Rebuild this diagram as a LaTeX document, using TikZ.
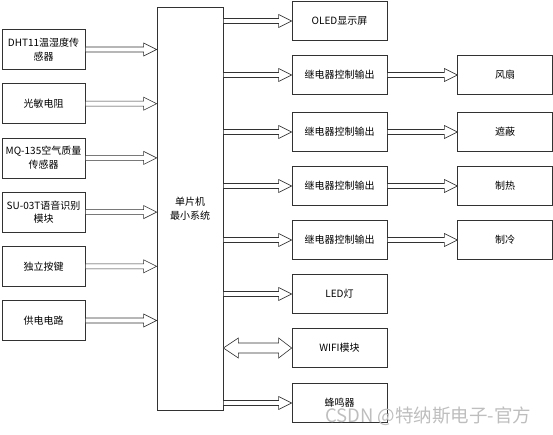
\documentclass[tikz,border=0pt]{standalone}
\usepackage{fontspec}
\setmainfont{Noto Sans CJK SC}
\usetikzlibrary{positioning,calc}
\definecolor{boxline}{RGB}{50,50,50}
\definecolor{wmgray}{RGB}{190,190,190}

% hollow block arrows, height taken from the first point
\newcommand{\harrow}[2]{%
  \draw[harrow] let \p1=#1, \p2=#2 in
    (\x1,\y1+2.5pt) -- (\x2-13pt,\y1+2.5pt) -- (\x2-13pt,\y1+6.5pt) -- (\x2,\y1)
    -- (\x2-13pt,\y1-6.5pt) -- (\x2-13pt,\y1-2.5pt) -- (\x1,\y1-2.5pt) -- cycle;}
\newcommand{\dharrow}[2]{%
  \draw[harrow] let \p1=#1, \p2=#2 in
    (\x1,\y1) -- (\x1+15pt,\y1+10pt) -- (\x1+15pt,\y1+5pt) -- (\x2-13pt,\y1+5pt)
    -- (\x2-13pt,\y1+10pt) -- (\x2,\y1) -- (\x2-13pt,\y1-10pt) -- (\x2-13pt,\y1-5pt)
    -- (\x1+15pt,\y1-5pt) -- (\x1+15pt,\y1-10pt) -- cycle;}

\begin{document}
\begin{tikzpicture}[x=1pt,y=-1pt,node distance=13.5pt and 70pt,
  every node/.style={font=\fontsize{10}{13.5}\selectfont},
  blk/.style={draw=boxline,line width=0.7pt,align=center,inner sep=1pt},
  lbox/.style={blk,minimum width=83pt,minimum height=40pt},
  rbox/.style={blk,minimum width=95pt,minimum height=39pt},
  mcubox/.style={blk,minimum width=66pt,minimum height=403pt},
  harrow/.style={draw=boxline,line width=0.6pt,fill=white},
  watermark/.style={text=wmgray,font=\fontsize{18.5}{20}\selectfont,inner sep=0pt}]
\useasboundingbox (0,0) rectangle (553,435);

% sensors and inputs
\node[lbox] (dht) at (43.5,49.5) {DHT11温湿度传\\感器};
\node[lbox,below=of dht] (ldr) {光敏电阻};
\node[lbox,below=of ldr] (mq) {MQ-135空气质量\\传感器};
\node[lbox,below=of mq] (voice) {SU-03T语音识别\\模块};
\node[lbox,below=of voice] (key) {独立按键};
\node[lbox,below=of key] (pwr) {供电电路};

% controller
\node[mcubox] (mcu) at (190,208.5) {单片机\\最小系统};

% outputs
\node[rbox] (oled) at (339.5,21) {OLED显示屏};
\node[rbox] (rly1) at (339.5,75) {继电器控制输出};
\node[rbox] (rly2) at (339.5,132) {继电器控制输出};
\node[rbox] (rly3) at (339.5,186) {继电器控制输出};
\node[rbox] (rly4) at (339.5,240) {继电器控制输出};
\node[rbox] (led) at (339.5,294) {LED灯};
\node[rbox] (wifi) at (339.5,348) {WIFI模块};
\node[rbox] (buzz) at (339.5,403) {蜂鸣器};

\node[rbox,right=of rly1] (fan) {风扇};
\node[rbox,right=of rly2] (shade) {遮蔽};
\node[rbox,right=of rly3] (heat) {制热};
\node[rbox,right=of rly4] (cool) {制冷};

\node[watermark] (csdn) at (428,416) {CSDN @特纳斯电子-官方};

% connectors
\foreach \s in {dht,ldr,mq,voice,key,pwr}
  \harrow{(\s.east)}{(\s.east -| mcu.west)};
\foreach \t in {oled,rly1,rly2,rly3,rly4,led,buzz}
  \harrow{(\t.west -| mcu.east)}{(\t.west)};
\dharrow{(wifi.west -| mcu.east)}{(wifi.west)}
\harrow{(rly1.east)}{(fan.west)}
\harrow{(rly2.east)}{(shade.west)}
\harrow{(rly3.east)}{(heat.west)}
\harrow{(rly4.east)}{(cool.west)}
\end{tikzpicture}
\end{document}
